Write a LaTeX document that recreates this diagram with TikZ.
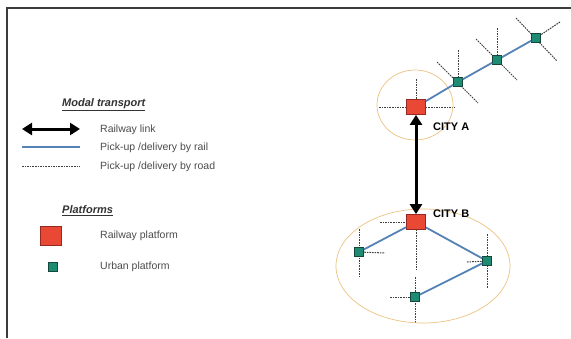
\documentclass[tikz,border=0pt]{standalone}
\usepackage{fontspec}
\setmainfont{Liberation Sans}
\usetikzlibrary{arrows.meta,backgrounds}
\definecolor{railred}{RGB}{232,72,52}
\definecolor{railredd}{RGB}{150,40,35}
\definecolor{urbteal}{RGB}{30,140,115}
\definecolor{urbteald}{RGB}{20,70,60}
\definecolor{railblue}{RGB}{85,130,180}
\definecolor{zoneorange}{RGB}{235,195,130}
\definecolor{framegray}{RGB}{60,60,60}
\begin{document}
\begin{tikzpicture}[x=1pt,y=-1pt,
  railplat/.style={draw=railredd,fill=railred,line width=0.8pt,minimum width=19pt,minimum height=15pt,inner sep=0pt},
  urbplat/.style={draw=urbteald,fill=urbteal,line width=0.6pt,minimum width=9pt,minimum height=9pt,inner sep=0pt},
  raillink/.style={line width=3pt,{Triangle[length=10pt,width=12pt]}-{Triangle[length=10pt,width=12pt]}},
  pickrail/.style={draw=railblue,line width=1.8pt},
  pickroad/.style={draw=black!75,line width=1pt,dash pattern=on 1.6pt off 1pt},
  zone/.style={draw=zoneorange,line width=0.7pt},
  lbl/.style={font=\fontsize{10.5}{12}\selectfont,text=black!70,anchor=west,inner sep=0pt},
  head/.style={font=\fontsize{11}{12}\selectfont\bfseries\itshape,text=black!80,anchor=west,inner sep=0pt},
  city/.style={font=\fontsize{11}{12}\selectfont\bfseries,anchor=west,inner sep=0pt}]
\useasboundingbox (0,0) rectangle (571,338);
\begin{scope}[on background layer]
\fill[white] (0,0) rectangle (571,338);
\end{scope}
% frame
\draw[framegray,line width=1.3pt] (7,338) -- (7,8) -- (571,8);

% ---------- legend ----------
\node[head] (h1) at (62,105) {\underline{Modal transport}};
\coordinate (la1) at (22,129);
\coordinate (la2) at (80,129);
\draw[raillink] (la1) -- (la2);
\node[lbl] (t1) at (100,130) {Railway link};
\coordinate (lb1) at (22,147);
\coordinate (lb2) at (80,147);
\draw[pickrail] (lb1) -- (lb2);
\node[lbl] (t2) at (100,148) {Pick-up /delivery by rail};
\coordinate (lc1) at (22,166);
\coordinate (lc2) at (80,166);
\draw[pickroad] (lc1) -- (lc2);
\node[lbl] (t3) at (100,167) {Pick-up /delivery by road};

\node[head] (h2) at (62,211) {\underline{Platforms}};
\node[railplat,minimum width=21pt,minimum height=19pt] (lr) at (51,236) {};
\node[lbl] (t4) at (100,236) {Railway platform};
\node[urbplat] (lu) at (53,267) {};
\node[lbl] (t5) at (100,267) {Urban platform};

% ---------- City A ----------
\draw[zone] (415,105) ellipse [x radius=38, y radius=35];
\node[railplat] (A) at (416,107) {};
\node[urbplat] (u1) at (458,82) {};
\node[urbplat] (u2) at (497,60) {};
\node[urbplat] (u3) at (536,38) {};
\coordinate (aW) at (379,107);
\coordinate (aE) at (455,107);
\coordinate (aN) at (416,79);
\coordinate (u1N) at (458,50);
\coordinate (u1a) at (437,62);
\coordinate (u1b) at (478,103);
\coordinate (u2N) at (497,28);
\coordinate (u2a) at (476,39);
\coordinate (u2b) at (517,80);
\coordinate (u3a) at (516,18);
\coordinate (u3b) at (557,61);
\coordinate (u3c) at (560,22);
\begin{scope}[on background layer]
\draw[pickroad] (aW) -- (aE);
\draw[pickroad] (aN) -- (A.center);
\draw[pickroad] (u1N) -- (u1.center);
\draw[pickroad] (u1a) -- (u1b);
\draw[pickroad] (u2N) -- (u2.center);
\draw[pickroad] (u2a) -- (u2b);
\draw[pickroad] (u3a) -- (u3b);
\draw[pickroad] (u3c) -- (u3.center);
\end{scope}
\draw[pickrail] (A) -- (u1);
\draw[pickrail] (u1) -- (u2);
\draw[pickrail] (u2) -- (u3);
\node[city] (ca) at (433,127) {CITY A};

% ---------- City B ----------
\draw[zone] (423,266) ellipse [x radius=87, y radius=57];
\node[railplat] (B) at (416,222) {};
\node[urbplat] (uL) at (359,252) {};
\node[urbplat] (uR) at (487,261) {};
\node[urbplat] (uB) at (415,297) {};
\coordinate (bW) at (380,222);
\coordinate (bS) at (416,270);
\coordinate (uLN) at (359,229);
\coordinate (uLS) at (359,277);
\coordinate (uLE) at (385,253);
\coordinate (uRN) at (487,234);
\coordinate (uRS) at (487,288);
\coordinate (uRW) at (467,262);
\coordinate (uBN) at (415,277);
\coordinate (uBS) at (415,323);
\coordinate (uBW) at (390,297);
\begin{scope}[on background layer]
\draw[pickroad] (bW) -- (B.center);
\draw[pickroad] (B.center) -- (bS);
\draw[pickroad] (uLN) -- (uLS);
\draw[pickroad] (uL.center) -- (uLE);
\draw[pickroad] (uRN) -- (uRS);
\draw[pickroad] (uRW) -- (uR.center);
\draw[pickroad] (uBN) -- (uBS);
\draw[pickroad] (uBW) -- (uB.center);
\end{scope}
\draw[pickrail] (B) -- (uL);
\draw[pickrail] (B) -- (uR);
\draw[pickrail] (uR) -- (uB);
\node[city] (cb) at (433,214) {CITY B};

% railway link between cities
\draw[raillink] (A.south) -- (B.north);
\end{tikzpicture}
\end{document}
